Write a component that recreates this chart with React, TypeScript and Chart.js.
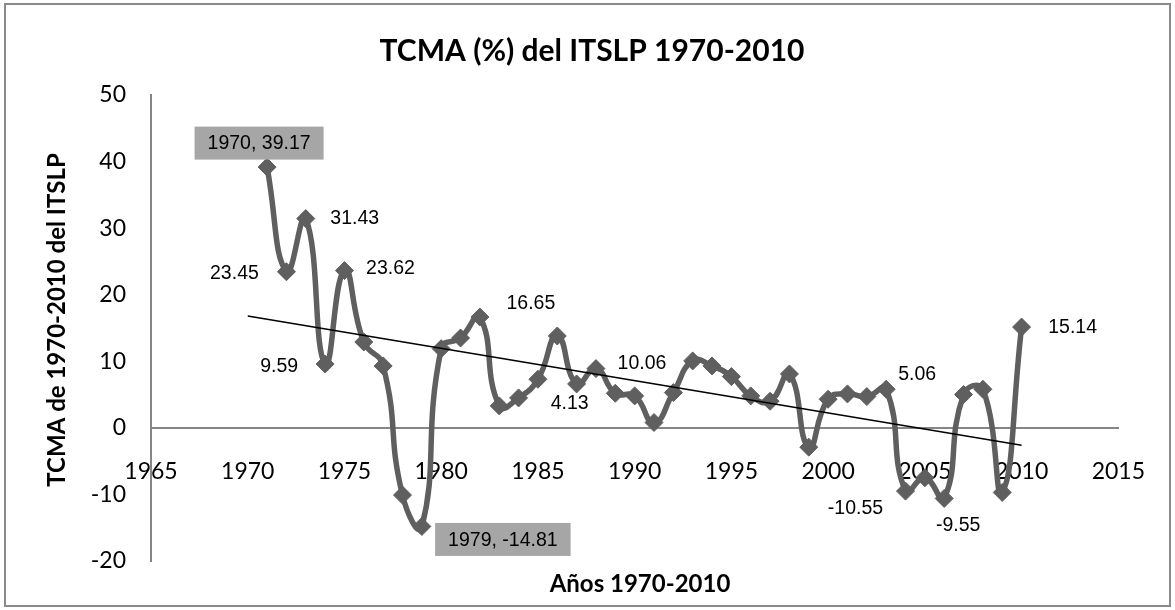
import { useEffect, useRef } from 'react';
import { Chart, registerables } from 'chart.js';

Chart.register(...registerables);

// ---- data ----
const years = [
  1971, 1972, 1973, 1974, 1975, 1976, 1977, 1978, 1979, 1980,
  1981, 1982, 1983, 1984, 1985, 1986, 1987, 1988, 1989, 1990,
  1991, 1992, 1993, 1994, 1995, 1996, 1997, 1998, 1999, 2000,
  2001, 2002, 2003, 2004, 2005, 2006, 2007, 2008, 2009, 2010,
];
const tcmaValues = [
  39.17, 23.45, 31.43, 9.59, 23.62, 12.9, 9.3, -10.1, -14.81, 11.9,
  13.5, 16.65, 3.3, 4.5, 7.3, 13.8, 6.6, 8.9, 5.2, 4.8,
  0.8, 5.3, 10.06, 9.3, 7.7, 4.8, 4.0, 8.1, -2.9, 4.3,
  5.1, 4.7, 5.8, -9.5, -7.5, -10.6, 5.0, 5.8, -9.7, 15.14,
];
const trendYears = [1970, 2010];
const trendValues = [16.8, -2.6];

const xTickValues = [1965, 1970, 1975, 1980, 1985, 1990, 1995, 2000, 2005, 2010, 2015];
const yTickValues = [-20, -10, 0, 10, 20, 30, 40, 50];

const labelYears = [1971, 1972, 1973, 1974, 1975, 1979, 1982, 1987, 1988, 2003, 2004, 2006, 2010];
const labelTexts = [
  '1970, 39.17', '23.45', '31.43', '9.59', '23.62', '1979, -14.81', '16.65',
  '4.13', '10.06', '5.06', '-10.55', '-9.55', '15.14',
];

const titleText = 'TCMA (%) del ITSLP 1970-2010';
const xTitleText = 'Años 1970-2010';
const yTitleText = 'TCMA de 1970-2010 del ITSLP';

// ---- styles / placement (not data) ----
const labelOffsets: Array<[number, number, boolean]> = [
  [-8, -24, true],
  [-52, 1, false],
  [49, -1, false],
  [-46, 2, false],
  [46, -3, false],
  [81, 13, true],
  [51, -14, false],
  [-7, 19, false],
  [46, -6, false],
  [31, -16, false],
  [-50, 17, false],
  [14, 26, false],
  [51, 0, false],
];

const LINE_GRAY = '#5f5f5f';
const AXIS_GRAY = '#868686';
const TICK_FONT = { family: 'Lato', size: 23 };
const LABEL_FONT = '19.5px "Liberation Sans", Arial, sans-serif';

const labelsPlugin = {
  id: 'pointLabels',
  afterDatasetsDraw(chart: any) {
    const { ctx, scales } = chart;
    ctx.save();
    ctx.font = LABEL_FONT;
    ctx.textAlign = 'center';
    ctx.textBaseline = 'middle';
    labelYears.forEach((yr, i) => {
      const idx = years.indexOf(yr);
      const px = scales.x.getPixelForValue(yr);
      const py = scales.y.getPixelForValue(tcmaValues[idx]);
      const [dx, dy, boxed] = labelOffsets[i];
      const cx = px + dx;
      const cy = py + dy;
      const text = labelTexts[i];
      if (boxed) {
        const w = ctx.measureText(text).width + 26;
        const h = 33;
        ctx.fillStyle = '#a6a6a6';
        ctx.fillRect(cx - w / 2, cy - h / 2, w, h);
      }
      ctx.fillStyle = '#000';
      ctx.fillText(text, cx, cy + 1);
    });
    ctx.restore();
  },
};

const decorPlugin = {
  id: 'decor',
  afterDraw(chart: any) {
    const { ctx } = chart;
    ctx.save();
    ctx.strokeStyle = '#8a8a8a';
    ctx.lineWidth = 2;
    ctx.strokeRect(5, 4, 1165, 602);

    ctx.fillStyle = '#000';
    ctx.textAlign = 'center';
    ctx.textBaseline = 'middle';
    ctx.font = 'bold 30px Lato';
    ctx.fillText(titleText, 592, 51);

    ctx.font = 'bold 24px Lato';
    ctx.fillText(xTitleText, 640, 584);

    ctx.translate(57, 320);
    ctx.rotate(-Math.PI / 2);
    ctx.fillText(yTitleText, 0, 0);
    ctx.restore();
  },
};

export default function App() {
  const canvasRef = useRef<HTMLCanvasElement | null>(null);

  useEffect(() => {
    const canvas = canvasRef.current;
    if (!canvas) return;
    const chart = new Chart(canvas, {
      type: 'line',
      data: {
        datasets: [
          {
            label: 'Lineal',
            data: trendYears.map((x, i) => ({ x, y: trendValues[i] })),
            borderColor: '#000',
            borderWidth: 1.6,
            pointRadius: 0,
            tension: 0,
          },
          {
            label: 'TCMA',
            data: years.map((x, i) => ({ x, y: tcmaValues[i] })),
            borderColor: LINE_GRAY,
            borderWidth: 5.5,
            pointStyle: 'rectRot',
            pointRadius: 9,
            pointBackgroundColor: LINE_GRAY,
            pointBorderColor: LINE_GRAY,
            pointBorderWidth: 1,
            tension: 0.5,
          },
        ],
      } as any,
      options: {
        responsive: false,
        animation: false,
        devicePixelRatio: 1,
        layout: { padding: { top: 95, bottom: 49, right: 47, left: 0 } },
        plugins: {
          legend: { display: false },
          tooltip: { enabled: false },
          title: { display: false },
        },
        scales: {
          x: {
            type: 'linear',
            position: { y: 0 },
            min: xTickValues[0],
            max: xTickValues[xTickValues.length - 1],
            afterBuildTicks: (s: any) => {
              s.ticks = xTickValues.map((v) => ({ value: v }));
            },
            ticks: {
              callback: (v: any) => String(v),
              font: TICK_FONT,
              color: '#000',
              padding: 30,
              maxRotation: 0,
              autoSkip: false,
            },
            grid: { display: false, drawTicks: false, tickLength: 0 },
            border: { display: true, color: AXIS_GRAY, width: 2 },
          },
          y: {
            type: 'linear',
            position: 'left',
            min: yTickValues[0],
            max: yTickValues[yTickValues.length - 1],
            afterBuildTicks: (s: any) => {
              s.ticks = yTickValues.map((v) => ({ value: v }));
            },
            afterFit: (s: any) => {
              s.width = 151;
            },
            ticks: {
              callback: (v: any) => String(v),
              font: TICK_FONT,
              color: '#000',
              padding: 25,
            },
            grid: { display: false, drawTicks: false, tickLength: 0 },
            border: { display: true, color: AXIS_GRAY, width: 2 },
          },
        },
      } as any,
      plugins: [labelsPlugin, decorPlugin],
    });
    return () => chart.destroy();
  }, []);

  return (
    <div style={{ position: 'fixed', left: 0, top: 0, width: 1175, height: 610, background: '#fff' }}>
      <canvas ref={canvasRef} width={1175} height={610} style={{ width: 1175, height: 610, display: 'block' }} />
    </div>
  );
}
